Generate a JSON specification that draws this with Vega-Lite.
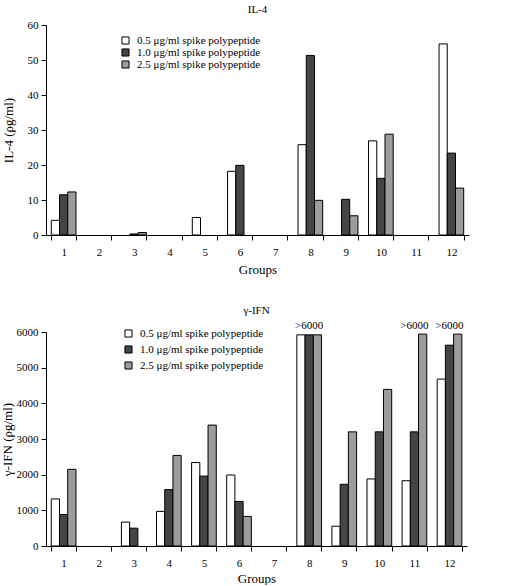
{
  "$schema": "https://vega.github.io/schema/vega-lite/v6.json",
  "padding": {"left": 1, "top": 4, "right": 4, "bottom": 0},
  "config": {
    "font": "Liberation Serif",
    "view": {"stroke": null},
    "axis": {
      "labelFont": "Liberation Serif", "titleFont": "Liberation Serif",
      "labelFontSize": 11, "titleFontSize": 13, "titleFontWeight": "normal",
      "domainColor": "black", "tickColor": "black", "labelColor": "black", "titleColor": "black",
      "grid": false, "tickSize": 5, "labelPadding": 3, "labelOverlap": false
    },
    "title": {"font": "Liberation Serif", "fontSize": 11, "fontWeight": "normal", "color": "black", "anchor": "middle"},
    "legend": {
      "orient": "none", "title": null, "symbolType": "square", "symbolSize": 50,
      "symbolStrokeColor": "black", "symbolStrokeWidth": 1, "labelFont": "Liberation Serif",
      "labelFontSize": 11, "labelColor": "black", "labelOffset": 6
    }
  },
  "datasets": {
    "il4": [
      {"group": 1, "dose": "0.5 μg/ml spike polypeptide", "value": 4.2},
      {"group": 1, "dose": "1.0 μg/ml spike polypeptide", "value": 11.5},
      {"group": 1, "dose": "2.5 μg/ml spike polypeptide", "value": 12.3},
      {"group": 3, "dose": "1.0 μg/ml spike polypeptide", "value": 0.3},
      {"group": 3, "dose": "2.5 μg/ml spike polypeptide", "value": 0.7},
      {"group": 5, "dose": "0.5 μg/ml spike polypeptide", "value": 5.0},
      {"group": 6, "dose": "0.5 μg/ml spike polypeptide", "value": 18.2},
      {"group": 6, "dose": "1.0 μg/ml spike polypeptide", "value": 19.9},
      {"group": 8, "dose": "0.5 μg/ml spike polypeptide", "value": 25.8},
      {"group": 8, "dose": "1.0 μg/ml spike polypeptide", "value": 51.3},
      {"group": 8, "dose": "2.5 μg/ml spike polypeptide", "value": 9.9},
      {"group": 9, "dose": "1.0 μg/ml spike polypeptide", "value": 10.2},
      {"group": 9, "dose": "2.5 μg/ml spike polypeptide", "value": 5.5},
      {"group": 10, "dose": "0.5 μg/ml spike polypeptide", "value": 26.9},
      {"group": 10, "dose": "1.0 μg/ml spike polypeptide", "value": 16.2},
      {"group": 10, "dose": "2.5 μg/ml spike polypeptide", "value": 28.8},
      {"group": 12, "dose": "0.5 μg/ml spike polypeptide", "value": 54.6},
      {"group": 12, "dose": "1.0 μg/ml spike polypeptide", "value": 23.4},
      {"group": 12, "dose": "2.5 μg/ml spike polypeptide", "value": 13.4}
    ],
    "ifn": [
      {"group": 1, "dose": "0.5 μg/ml spike polypeptide", "value": 1320},
      {"group": 1, "dose": "1.0 μg/ml spike polypeptide", "value": 880},
      {"group": 1, "dose": "2.5 μg/ml spike polypeptide", "value": 2150},
      {"group": 3, "dose": "0.5 μg/ml spike polypeptide", "value": 670},
      {"group": 3, "dose": "1.0 μg/ml spike polypeptide", "value": 500},
      {"group": 4, "dose": "0.5 μg/ml spike polypeptide", "value": 970},
      {"group": 4, "dose": "1.0 μg/ml spike polypeptide", "value": 1580},
      {"group": 4, "dose": "2.5 μg/ml spike polypeptide", "value": 2540},
      {"group": 5, "dose": "0.5 μg/ml spike polypeptide", "value": 2340},
      {"group": 5, "dose": "1.0 μg/ml spike polypeptide", "value": 1960},
      {"group": 5, "dose": "2.5 μg/ml spike polypeptide", "value": 3390},
      {"group": 6, "dose": "0.5 μg/ml spike polypeptide", "value": 1990},
      {"group": 6, "dose": "1.0 μg/ml spike polypeptide", "value": 1250},
      {"group": 6, "dose": "2.5 μg/ml spike polypeptide", "value": 830},
      {"group": 8, "dose": "0.5 μg/ml spike polypeptide", "value": 5920},
      {"group": 8, "dose": "1.0 μg/ml spike polypeptide", "value": 5920},
      {"group": 8, "dose": "2.5 μg/ml spike polypeptide", "value": 5920},
      {"group": 9, "dose": "0.5 μg/ml spike polypeptide", "value": 555},
      {"group": 9, "dose": "1.0 μg/ml spike polypeptide", "value": 1730},
      {"group": 9, "dose": "2.5 μg/ml spike polypeptide", "value": 3200},
      {"group": 10, "dose": "0.5 μg/ml spike polypeptide", "value": 1880},
      {"group": 10, "dose": "1.0 μg/ml spike polypeptide", "value": 3200},
      {"group": 10, "dose": "2.5 μg/ml spike polypeptide", "value": 4390},
      {"group": 11, "dose": "0.5 μg/ml spike polypeptide", "value": 1830},
      {"group": 11, "dose": "1.0 μg/ml spike polypeptide", "value": 3200},
      {"group": 11, "dose": "2.5 μg/ml spike polypeptide", "value": 5940},
      {"group": 12, "dose": "0.5 μg/ml spike polypeptide", "value": 4680},
      {"group": 12, "dose": "1.0 μg/ml spike polypeptide", "value": 5630},
      {"group": 12, "dose": "2.5 μg/ml spike polypeptide", "value": 5940}
    ],
    "ifnlabels": [
      {"group": 8, "value": 5940, "label": ">6000"},
      {"group": 11, "value": 5940, "label": ">6000"},
      {"group": 12, "value": 5940, "label": ">6000"}
    ]
  },
  "spacing": 29,
  "resolve": {"legend": {"color": "independent"}, "scale": {"fill": "independent"}},
  "vconcat": [
    {
      "title": {"text": "IL-4", "offset": 4},
      "width": 423,
      "height": 210,
      "data": {"name": "il4"},
      "mark": {"type": "bar", "stroke": "black", "strokeWidth": 1},
      "encoding": {
        "x": {
          "field": "group", "type": "ordinal",
          "scale": {"domain": [1,2,3,4,5,6,7,8,9,10,11,12], "paddingInner": 0.3, "paddingOuter": 0.15},
          "axis": {"title": "Groups", "labelAngle": 0, "tickBand": "extent", "labelPadding": 6, "titlePadding": 6}
        },
        "xOffset": {
          "field": "dose", "type": "nominal",
          "scale": {"domain": ["0.5 μg/ml spike polypeptide", "1.0 μg/ml spike polypeptide", "2.5 μg/ml spike polypeptide"], "paddingInner": 0, "paddingOuter": 0}
        },
        "y": {
          "field": "value", "type": "quantitative",
          "scale": {"domain": [0, 60]},
          "axis": {"title": "IL-4 (ρg/ml)", "values": [0,10,20,30,40,50,60], "titlePadding": 12}
        },
        "fill": {
          "field": "dose", "type": "nominal",
          "scale": {"domain": ["0.5 μg/ml spike polypeptide", "1.0 μg/ml spike polypeptide", "2.5 μg/ml spike polypeptide"], "range": ["#ffffff", "#454545", "#9c9c9c"]},
          "legend": {"legendX": 74, "legendY": 10, "rowPadding": -2}
        }
      }
    },
    {
      "title": {"text": "γ-IFN", "offset": 4},
      "width": 421,
      "height": 214,
      "encoding": {
        "x": {
          "field": "group", "type": "ordinal",
          "scale": {"domain": [1,2,3,4,5,6,7,8,9,10,11,12], "paddingInner": 0.3, "paddingOuter": 0.15},
          "axis": {"title": "Groups", "labelAngle": 0, "tickBand": "extent", "labelPadding": 6, "titlePadding": 4}
        },
        "y": {
          "field": "value", "type": "quantitative",
          "scale": {"domain": [0, 6000]},
          "axis": {"title": "γ-IFN (ρg/ml)", "values": [0,1000,2000,3000,4000,5000,6000], "format": "d", "labelOverlap": false, "titlePadding": 2}
        }
      },
      "layer": [
        {
          "data": {"name": "ifn"},
          "mark": {"type": "bar", "stroke": "black", "strokeWidth": 1},
          "encoding": {
            "xOffset": {
              "field": "dose", "type": "nominal",
              "scale": {"domain": ["0.5 μg/ml spike polypeptide", "1.0 μg/ml spike polypeptide", "2.5 μg/ml spike polypeptide"], "paddingInner": 0, "paddingOuter": 0}
            },
            "fill": {
              "field": "dose", "type": "nominal",
              "scale": {"domain": ["0.5 μg/ml spike polypeptide", "1.0 μg/ml spike polypeptide", "2.5 μg/ml spike polypeptide"], "range": ["#ffffff", "#454545", "#9c9c9c"]},
              "legend": {"legendX": 77, "legendY": -4, "rowPadding": 3}
            }
          }
        },
        {
          "data": {"name": "ifnlabels"},
          "mark": {"type": "text", "baseline": "bottom", "dy": -3, "fontSize": 11, "font": "Liberation Serif", "color": "black"},
          "encoding": {
            "text": {"field": "label"}
          }
        }
      ]
    }
  ]
}
